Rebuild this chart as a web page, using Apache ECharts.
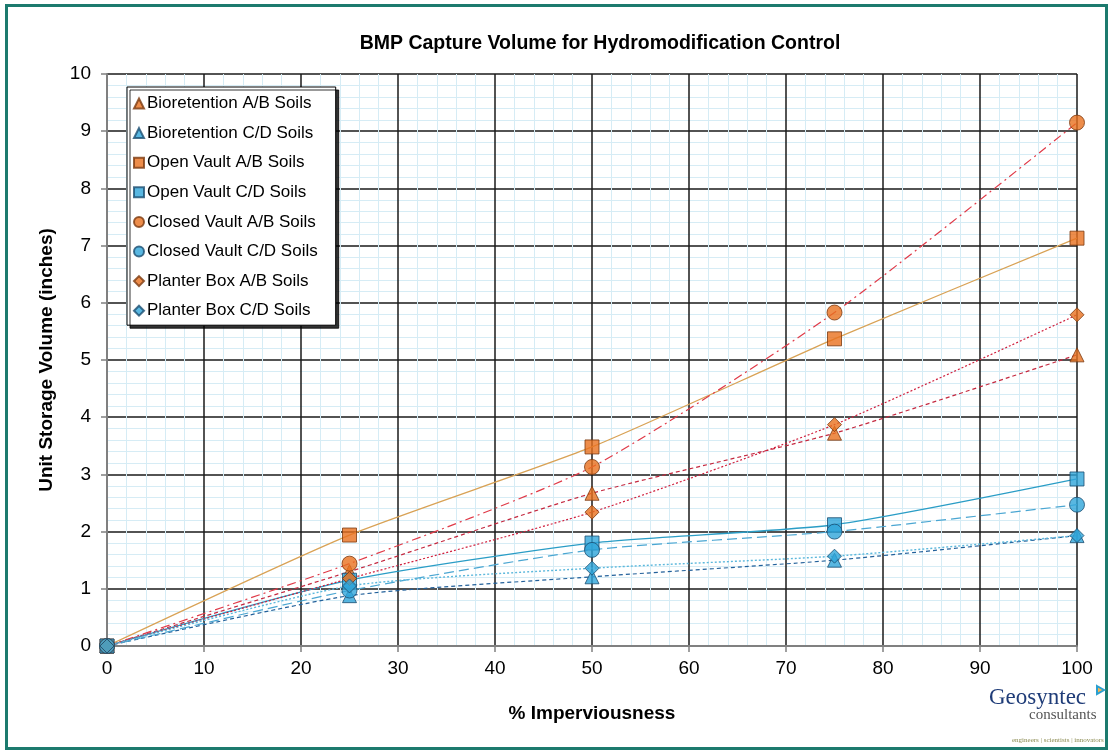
<!DOCTYPE html>
<html>
<head>
<meta charset="utf-8">
<script src="https://cdn.jsdelivr.net/npm/echarts@6/dist/echarts.min.js"></script>
<style>
html,body{margin:0;padding:0;background:#fff;}
#chart{width:1109px;height:750px;}
</style>
</head>
<body>
<div id="chart"></div>
<script>
// ---- data ----
var imperviousness = [0, 25, 50, 75, 100];
var bioretentionAB = [0, 1.30, 2.67, 3.72, 5.09];
var bioretentionCD = [0, 0.88, 1.21, 1.50, 1.93];
var openVaultAB = [0, 1.94, 3.48, 5.37, 7.13];
var openVaultCD = [0, 1.15, 1.80, 2.12, 2.92];
var closedVaultAB = [0, 1.44, 3.13, 5.83, 9.15];
var closedVaultCD = [0, 0.97, 1.68, 2.00, 2.47];
var planterBoxAB = [0, 1.18, 2.34, 3.87, 5.79];
var planterBoxCD = [0, 1.05, 1.36, 1.57, 1.93];
var xTicks = [0, 10, 20, 30, 40, 50, 60, 70, 80, 90, 100];
var yTicks = [0, 1, 2, 3, 4, 5, 6, 7, 8, 9, 10];

var ORANGE = '#E8711E', ORANGE_EDGE = '#7A3A10';
var BLUE = '#2FA5DA', BLUE_EDGE = '#1B4E70';

function pairs(vals) {
  return imperviousness.map(function (x, i) { return [x, vals[i]]; });
}

var seriesDefs = [
  {name: 'Bioretention A/B Soils', vals: bioretentionAB, symbol: 'triangle', size: 14, fill: ORANGE, edge: ORANGE_EDGE,
   line: {color: '#C4283F', type: [4, 3], width: 1.2}},
  {name: 'Bioretention C/D Soils', vals: bioretentionCD, symbol: 'triangle', size: 14, fill: BLUE, edge: BLUE_EDGE,
   line: {color: '#22609A', type: [4, 3], width: 1.2}},
  {name: 'Open Vault A/B Soils', vals: openVaultAB, symbol: 'rect', size: 14, fill: ORANGE, edge: ORANGE_EDGE,
   line: {color: '#D9A255', type: 'solid', width: 1.3}},
  {name: 'Open Vault C/D Soils', vals: openVaultCD, symbol: 'rect', size: 14, fill: BLUE, edge: BLUE_EDGE,
   line: {color: '#2A9DC6', type: 'solid', width: 1.3}},
  {name: 'Closed Vault A/B Soils', vals: closedVaultAB, symbol: 'circle', size: 15, fill: ORANGE, edge: ORANGE_EDGE,
   line: {color: '#E03A48', type: [9, 4, 2, 4], width: 1.2}},
  {name: 'Closed Vault C/D Soils', vals: closedVaultCD, symbol: 'circle', size: 15, fill: BLUE, edge: BLUE_EDGE,
   line: {color: '#4AA6D2', type: [10, 5], width: 1.2}},
  {name: 'Planter Box A/B Soils', vals: planterBoxAB, symbol: 'diamond', size: 14, fill: ORANGE, edge: ORANGE_EDGE,
   line: {color: '#D0203E', type: [2, 2], width: 1.2}},
  {name: 'Planter Box C/D Soils', vals: planterBoxCD, symbol: 'diamond', size: 14, fill: BLUE, edge: BLUE_EDGE,
   line: {color: '#5CB8DC', type: [2, 2], width: 1.4}}
];

var series = [];
seriesDefs.forEach(function (d) {
  series.push({
    name: 'trend ' + d.name,
    type: 'line',
    data: pairs(d.vals),
    smooth: 0.2,
    symbol: 'none',
    lineStyle: d.line,
    z: 2,
    silent: true
  });
});
seriesDefs.forEach(function (d) {
  series.push({
    name: d.name,
    type: 'scatter',
    data: pairs(d.vals),
    symbol: d.symbol,
    symbolSize: d.size,
    itemStyle: {color: d.fill, borderColor: d.edge, borderWidth: 1},
    z: 5
  });
});

var FONT = '"Liberation Sans", Arial, sans-serif';

var chart = echarts.init(document.getElementById('chart'), null, {renderer: 'canvas'});
chart.setOption({
  backgroundColor: '#fff',
  animation: false,
  grid: {left: 107, right: 32, top: 74, bottom: 104, show: false},
  title: {
    text: 'BMP Capture Volume for Hydromodification Control',
    left: 595, top: 29, textAlign: 'center',
    textStyle: {fontFamily: FONT, fontSize: 19.5, fontWeight: 'bold', color: '#000'}
  },
  legend: {
    orient: 'vertical',
    left: 127, top: 87,
    data: seriesDefs.map(function (d) { return {name: d.name, icon: d.symbol}; }),
    itemWidth: 10, itemHeight: 10, itemGap: 12.6,
    padding: [8, 18, 6, 6],
    backgroundColor: '#fff',
    borderColor: '#000', borderWidth: 1,
    shadowColor: 'rgba(0,0,0,0.8)', shadowBlur: 0, shadowOffsetX: 3, shadowOffsetY: 3,
    textStyle: {fontFamily: FONT, fontSize: 17, color: '#000', padding: [0, 0, 0, -2]},
    selectedMode: false
  },
  xAxis: {
    type: 'value', min: 0, max: 100, interval: 10,
    name: '% Imperviousness', nameLocation: 'middle', nameGap: 58,
    nameTextStyle: {fontFamily: FONT, fontSize: 19, fontWeight: 'bold', color: '#000'},
    axisLine: {show: true, onZero: false, lineStyle: {color: '#808080', width: 2}},
    axisTick: {show: true, inside: false, length: 6, lineStyle: {color: '#808080', width: 1.5}},
    axisLabel: {fontFamily: FONT, fontSize: 19, color: '#000', margin: 13,
      formatter: function (v) { return xTicks.indexOf(v) >= 0 ? String(v) : ''; }},
    splitLine: {show: true, lineStyle: {color: '#1a1a1a', width: 1.5}},
    minorTick: {show: false, splitNumber: 5},
    minorSplitLine: {show: true, lineStyle: {color: '#D6ECF5', width: 1}}
  },
  yAxis: {
    type: 'value', min: 0, max: 10, interval: 1,
    name: 'Unit Storage Volume (inches)', nameLocation: 'middle', nameGap: 51,
    nameTextStyle: {fontFamily: FONT, fontSize: 19, fontWeight: 'bold', color: '#000'},
    axisLine: {show: true, onZero: false, lineStyle: {color: '#808080', width: 2}},
    axisTick: {show: true, inside: false, length: 6, lineStyle: {color: '#808080', width: 1.5}},
    axisLabel: {fontFamily: FONT, fontSize: 19, color: '#000', margin: 16,
      formatter: function (v) { return yTicks.indexOf(v) >= 0 ? String(v) : ''; }},
    splitLine: {show: true, lineStyle: {color: '#1a1a1a', width: 1.5}},
    minorTick: {show: false, splitNumber: 5},
    minorSplitLine: {show: true, lineStyle: {color: '#D6ECF5', width: 1}}
  },
  graphic: [
    {type: 'rect', left: 4, top: 3, z: 100, silent: true,
     shape: {width: 1100, height: 743},
     style: {fill: 'none', stroke: '#1C7A6E', lineWidth: 3}},
    {type: 'text', left: 989, top: 686, z: 100,
     style: {text: 'Geosyntec', fontFamily: '"Liberation Serif", serif', fontSize: 23, fill: '#1F3C78'}},
    {type: 'polygon', z: 100,
     shape: {points: [[1097, 686], [1104, 690], [1097, 694]]},
     style: {fill: '#F4B450', stroke: '#2A9FD0', lineWidth: 2}},
    {type: 'text', left: 1029, top: 708, z: 100,
     style: {text: 'consultants', fontFamily: '"Liberation Serif", serif', fontSize: 15, fill: '#555'}},
    {type: 'text', left: 1012, top: 737, z: 100,
     style: {text: 'engineers | scientists | innovators', fontFamily: '"Liberation Serif", serif', fontSize: 7, fill: '#8A8A50'}}
  ],
  series: series
});
</script>
</body>
</html>
